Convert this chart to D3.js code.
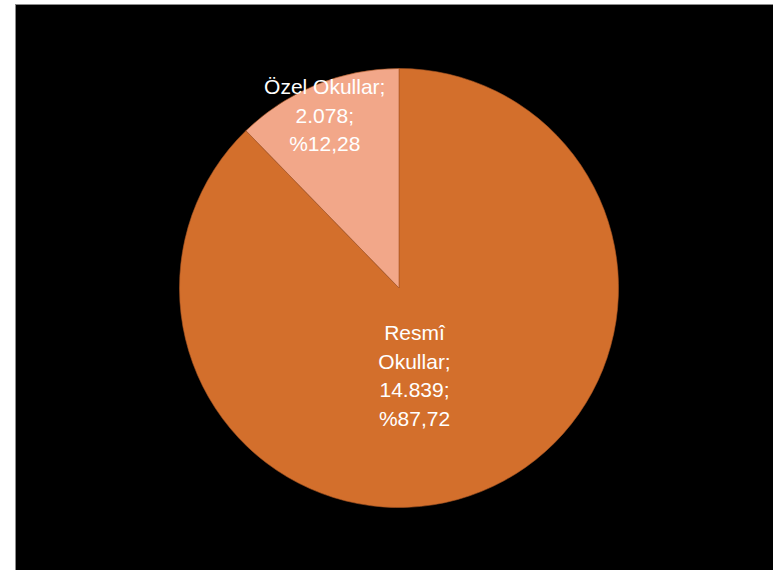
<!DOCTYPE html>
<html>
<head>
<meta charset="utf-8">
<script src="https://cdn.jsdelivr.net/npm/d3@7"></script>
<style>
  html, body { margin: 0; padding: 0; background: #fff; }
  svg { display: block; }
</style>
</head>
<body>
<svg width="773" height="570"></svg>
<script>
const width = 773;
const height = 570;

// data
const categories = ["Resmî Okullar", "Özel Okullar"];
const values = [14839, 2078];
const valueLabels = ["14.839", "2.078"];
const percentLabels = ["%87,72", "%12,28"];
const labelLines = [
  ["Resmî", "Okullar;", "14.839;", "%87,72"],
  ["Özel Okullar;", "2.078;", "%12,28"]
];

const colors = ["#D36F2C", "#F2A789"];

const svg = d3.select("svg");

// black chart area with grey border
svg.append("rect")
  .attr("x", 15.5)
  .attr("y", 4.5)
  .attr("width", width)
  .attr("height", height)
  .attr("fill", "#000")
  .attr("stroke", "#8c8c8c")
  .attr("stroke-width", 1);

const cx = 399, cy = 288, radius = 219.5;

const pie = d3.pie().sort(null).value(d => d);
const arcs = pie(values);

const arc = d3.arc().innerRadius(0).outerRadius(radius);

const g = svg.append("g").attr("transform", `translate(${cx},${cy})`);

g.selectAll("path")
  .data(arcs)
  .enter()
  .append("path")
  .attr("d", arc)
  .attr("fill", (d, i) => colors[i])
  .attr("stroke", "#a85524")
  .attr("stroke-width", 0.6);

// label radii (fraction of radius) per slice
const labelRadius = [0.43, 0.85];
const labelShiftX = [-20, -4];
const lineH = 28.5;

const labels = g.selectAll("text.lbl")
  .data(arcs)
  .enter()
  .append("text")
  .attr("class", "lbl")
  .attr("text-anchor", "middle")
  .attr("fill", "#fff")
  .style("font-family", "'Liberation Sans', Arial, sans-serif")
  .style("font-size", "21px")
  .attr("transform", (d, i) => {
    const la = d3.arc().innerRadius(radius * labelRadius[i]).outerRadius(radius * labelRadius[i]);
    const [x, y] = la.centroid(d);
    return `translate(${x + labelShiftX[i]},${y})`;
  });

labels.each(function(d, i) {
  const lines = labelLines[i];
  const t = d3.select(this);
  const offset = -(lines.length - 1) / 2 * lineH;
  lines.forEach((ln, k) => {
    t.append("tspan")
      .attr("x", 0)
      .attr("y", offset + k * lineH)
      .attr("dy", "0.35em")
      .text(ln);
  });
});
</script>
</body>
</html>
